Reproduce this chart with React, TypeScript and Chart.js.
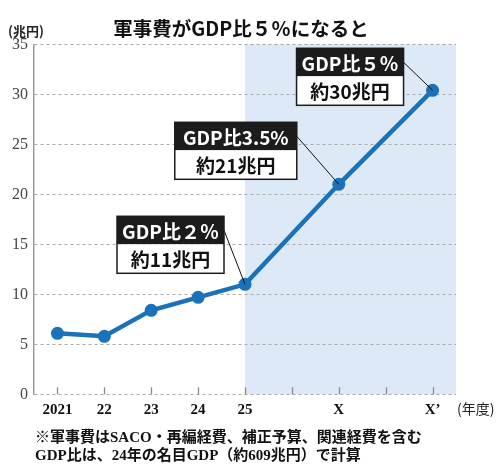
import React, { useEffect, useRef } from "react";
import { Chart, registerables } from "chart.js";

Chart.register(...registerables);

const categories = ["2021", "22", "23", "24", "25", "", "X", "", "X’"];
const spending: (number | null)[] = [6.1, 5.8, 8.4, 9.7, 11.0, null, 21.0, null, 30.4];
const yTicks = [0, 5, 10, 15, 20, 25, 30, 35];
const annoIndex = [4, 6, 8];
const annoTop = ["GDP比２％", "GDP比3.5%", "GDP比５％"];
const annoBottom = ["約11兆円", "約21兆円", "約30兆円"];
const titleText = "軍事費がGDP比５％になると";
const unitText = "(兆円)";
const xUnitText = "(年度)";
const notes = [
  "※軍事費はSACO・再編経費、補正予算、関連経費を含む",
  "GDP比は、24年の名目GDP（約609兆円）で計算",
];

const BLUE = "#1b72b8";
const JP = '"Noto Sans CJK JP"';

// box layout relative to its point: [right offset, top offset, width]
const boxLayout = [
  [-21, -68, 107],
  [-42, -62, 122],
  [-29, -42, 107],
];

const decorPlugin = {
  id: "decor",
  beforeDraw(chart: any) {
    const { ctx, chartArea } = chart;
    const x = chart.scales.x;
    const left = x.getPixelForValue(4);
    ctx.save();
    ctx.fillStyle = "#dde9f6";
    ctx.fillRect(left, chartArea.top, chartArea.right - left, chartArea.bottom - chartArea.top);
    ctx.restore();
  },
  afterDatasetsDraw(chart: any) {
    const { ctx, chartArea } = chart;
    const xs = chart.scales.x;
    const ys = chart.scales.y;
    ctx.save();
    // inward tick marks
    ctx.strokeStyle = "#8a8a8a";
    ctx.lineWidth = 1.3;
    categories.forEach((_, i) => {
      const px = Math.round(xs.getPixelForValue(i)) + 0.5;
      ctx.beginPath();
      ctx.moveTo(px, chartArea.bottom);
      ctx.lineTo(px, chartArea.bottom - 7);
      ctx.stroke();
    });
    // annotations
    annoIndex.forEach((idx, k) => {
      const v = spending[idx] as number;
      const px = xs.getPixelForValue(idx);
      const py = ys.getPixelForValue(v);
      const [dr, dt, w] = boxLayout[k];
      const right = px + dr;
      const top = py + dt;
      const l = right - w;
      const hh = 28;
      const bh = 29;
      ctx.strokeStyle = "#111";
      ctx.lineWidth = 1;
      ctx.beginPath();
      ctx.moveTo(right, top + 14);
      ctx.lineTo(px, py);
      ctx.stroke();
      ctx.fillStyle = "#1c1c1c";
      ctx.fillRect(l, top, w, hh);
      ctx.fillStyle = "#fff";
      ctx.fillRect(l, top + hh, w, bh);
      ctx.lineWidth = 1.5;
      ctx.strokeStyle = "#1c1c1c";
      ctx.strokeRect(l, top, w, hh + bh);
      ctx.textAlign = "center";
      ctx.textBaseline = "middle";
      ctx.font = `bold 19px ${JP}`;
      ctx.fillStyle = "#fff";
      ctx.fillText(annoTop[k], l + w / 2, top + hh / 2 + 1);
      ctx.fillStyle = "#111";
      ctx.fillText(annoBottom[k], l + w / 2, top + hh + bh / 2 + 1);
    });
    ctx.restore();
  },
  afterDraw(chart: any) {
    const { ctx } = chart;
    ctx.save();
    ctx.textBaseline = "middle";
    ctx.textAlign = "center";
    ctx.fillStyle = "#111";
    ctx.font = `bold 19.5px ${JP}`;
    ctx.fillText(titleText, 241, 29);
    ctx.textAlign = "left";
    ctx.font = `bold 13px ${JP}`;
    ctx.fillStyle = "#222";
    ctx.fillText(unitText, 8, 31);
    ctx.font = `14px ${JP}`;
    ctx.fillText(xUnitText, 457, 409);
    ctx.font = `bold 15px "Liberation Serif", ${JP}`;
    ctx.fillStyle = "#111";
    ctx.fillText(notes[0], 35, 438);
    ctx.fillText(notes[1], 35, 456);
    ctx.restore();
  },
};

export default function App() {
  const ref = useRef<HTMLCanvasElement | null>(null);
  useEffect(() => {
    if (!ref.current) return;
    const chart = new Chart(ref.current, {
      type: "line",
      data: {
        labels: categories,
        datasets: [
          {
            data: spending,
            borderColor: BLUE,
            backgroundColor: BLUE,
            borderWidth: 4.5,
            pointRadius: 6.5,
            pointBackgroundColor: BLUE,
            pointBorderWidth: 0,
            spanGaps: true,
            tension: 0,
          },
        ],
      },
      options: {
        animation: false,
        responsive: false,
        devicePixelRatio: 1,
        layout: { padding: { top: 44.3, right: 44, left: 0, bottom: 0 } },
        plugins: { legend: { display: false }, tooltip: { enabled: false } },
        scales: {
          x: {
            type: "category",
            offset: true,
            grid: { display: false, drawTicks: false },
            border: { display: false },
            ticks: {
              padding: 7,
              autoSkip: false,
              maxRotation: 0,
              color: "#111",
              font: { family: '"Liberation Serif"', size: 15, weight: "bold" },
            },
            afterFit: (s: any) => {
              s.height = 70.7;
            },
          },
          y: {
            min: 0,
            max: 35,
            afterBuildTicks: (s: any) => {
              s.ticks = yTicks.map((v) => ({ value: v }));
            },
            grid: { color: "#a9a9a9", lineWidth: 1, drawTicks: false },
            border: { display: true, color: "#9a9a9a", width: 1.5, dash: [3, 3] },
            ticks: {
              padding: 6,
              color: "#444",
              font: { family: '"Liberation Serif"', size: 16 },
            },
            afterFit: (s: any) => {
              s.width = 34;
            },
          },
        },
      },
      plugins: [decorPlugin],
    });
    return () => chart.destroy();
  }, []);
  return (
    <div style={{ position: "absolute", left: 0, top: 0, width: 500, height: 465, background: "#fff" }}>
      <canvas ref={ref} width={500} height={465} />
    </div>
  );
}
